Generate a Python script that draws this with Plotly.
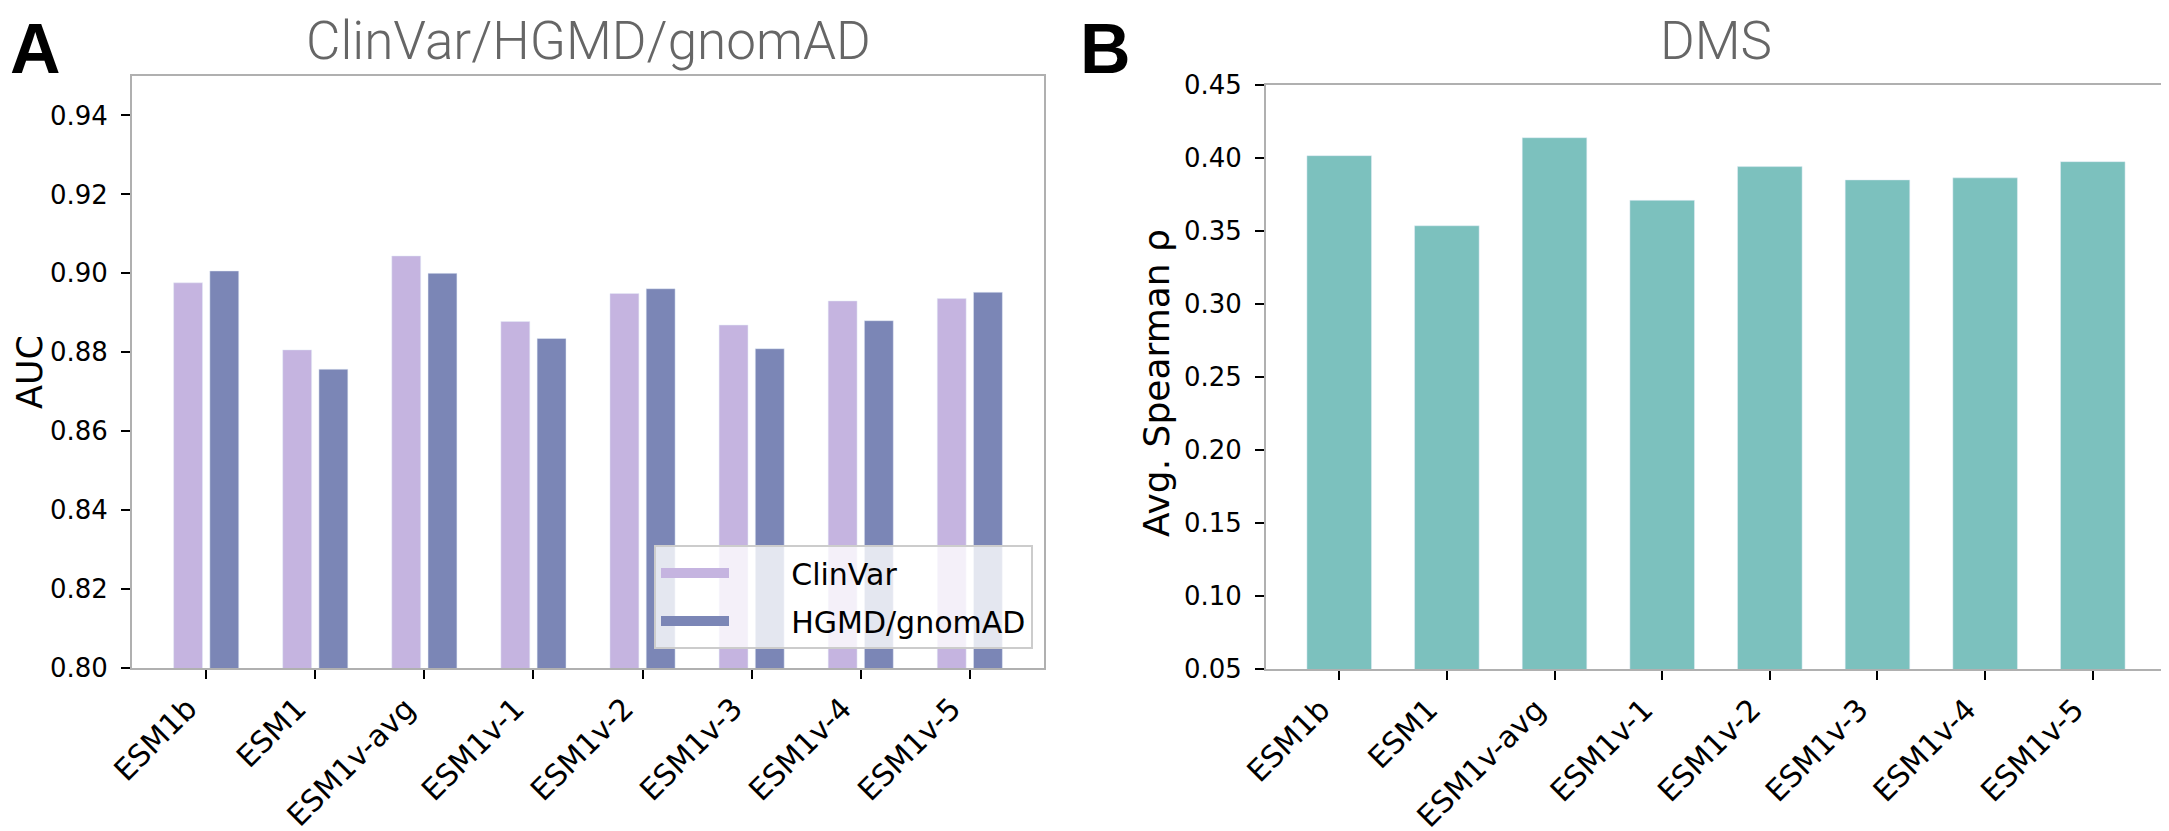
import plotly.graph_objects as go

models = ["ESM1b", "ESM1", "ESM1v-avg", "ESM1v-1", "ESM1v-2", "ESM1v-3", "ESM1v-4", "ESM1v-5"]
clinvar_auc = [0.8976, 0.8806, 0.9044, 0.8878, 0.8949, 0.8869, 0.8930, 0.8936]
hgmd_auc = [0.9006, 0.8757, 0.9000, 0.8835, 0.8961, 0.8809, 0.8880, 0.8952]
dms_spearman = [0.4016, 0.3536, 0.4139, 0.3710, 0.3941, 0.3850, 0.3864, 0.3975]

auc_ticks = [0.80, 0.82, 0.84, 0.86, 0.88, 0.90, 0.92, 0.94]
dms_ticks = [0.05, 0.10, 0.15, 0.20, 0.25, 0.30, 0.35, 0.40, 0.45]

C_CLIN = "#c5b4e0"
C_HGMD = "#7b86b6"
C_DMS = "#7cc1be"

W, H = 2169, 831
OFF = 8  # page offset of the plot div inside the browser window
YTICKFONT = dict(family="DejaVu Sans", size=26, color="black")
XTICKFONT = dict(family="DejaVu Sans", size=30, color="black")
PAD = "\u00a0" * 6

fig = go.Figure()
fig.add_trace(go.Bar(x=models, y=clinvar_auc, name="ClinVar", marker_color=C_CLIN,
                     width=0.265, offset=-0.2985, xaxis="x", yaxis="y", showlegend=False))
fig.add_trace(go.Bar(x=models, y=hgmd_auc, name="HGMD/gnomAD", marker_color=C_HGMD,
                     width=0.265, offset=0.0335, xaxis="x", yaxis="y", showlegend=False))
fig.add_trace(go.Bar(x=models, y=dms_spearman, name="DMS", marker_color=C_DMS,
                     width=0.6, showlegend=False, xaxis="x2", yaxis="y2"))
# legend-only entries
fig.add_trace(go.Scatter(x=[None], y=[None], mode="lines", name=PAD + "ClinVar", legendgroup="c",
                         line=dict(color=C_CLIN, width=22), xaxis="x", yaxis="y"))
fig.add_trace(go.Scatter(x=[None], y=[None], mode="lines", name=PAD + "HGMD/gnomAD", legendgroup="h",
                         line=dict(color=C_HGMD, width=22), xaxis="x", yaxis="y"))

axis_common = dict(showline=True, mirror=True, linecolor="#b0b0b0", linewidth=2,
                   ticks="outside", ticklen=9, tickwidth=2, tickcolor="black",
                   showgrid=False, zeroline=False, automargin=False)

def px_x(v):
    return (v - OFF) / W

def px_y(v):
    return 1 - (v - OFF) / H

x1 = (px_x(132), px_x(1044))
x2 = (px_x(1266), px_x(2166))
y1 = (px_y(668), px_y(76))
y2 = (px_y(669), px_y(85))

fig.update_layout(
    width=W, height=H,
    margin=dict(l=0, r=0, t=0, b=0, autoexpand=False),
    paper_bgcolor="white", plot_bgcolor="white",
    barmode="overlay",
    xaxis=dict(domain=x1, anchor="y", type="category", range=[-0.68, 7.68],
               tickangle=-45, tickfont=XTICKFONT, ticklabelshift=-18, **axis_common),
    yaxis=dict(domain=y1, anchor="x", range=[0.80, 0.95], tickvals=auc_ticks,
               tickformat=".2f", ticklabelstandoff=8, tickfont=YTICKFONT,
               **axis_common),
    xaxis2=dict(domain=x2, anchor="y2", type="category", range=[-0.68, 7.68],
                tickangle=-45, tickfont=XTICKFONT, ticklabelshift=-18, **axis_common),
    yaxis2=dict(domain=y2, anchor="x2", range=[0.05, 0.45], tickvals=dms_ticks,
                tickformat=".2f", ticklabelstandoff=8, tickfont=YTICKFONT,
                **axis_common),
    legend=dict(x=px_x(654), y=px_y(545), xanchor="left", yanchor="top",
                bgcolor="rgba(255,255,255,0.8)", bordercolor="#cccccc", borderwidth=2,
                font=dict(family="DejaVu Sans", size=30, color="black"),
                traceorder="grouped", itemwidth=68, tracegroupgap=6),
    showlegend=True,
)

# axis titles
fig.add_annotation(text="AUC", x=0, y=(y1[0] + y1[1]) / 2, xref="paper", yref="paper",
                   xanchor="left", yanchor="middle", textangle=-90,
                   showarrow=False, font=dict(family="DejaVu Sans", size=35, color="black"))
fig.add_annotation(text="Avg. Spearman ρ", x=px_x(1156), y=px_y(383), xref="paper", yref="paper",
                   xanchor="center", yanchor="middle", textangle=-90,
                   showarrow=False, font=dict(family="DejaVu Sans", size=36, color="black"))

# panel titles
title_font = dict(family="Roboto", size=53, color="#666666", weight=300)
fig.add_annotation(text="ClinVar/HGMD/gnomAD", x=(x1[0] + x1[1]) / 2, y=1,
                   xref="paper", yref="paper", xanchor="center", yanchor="top",
                   showarrow=False, font=title_font)
fig.add_annotation(text="DMS", x=(x2[0] + x2[1]) / 2, y=1,
                   xref="paper", yref="paper", xanchor="center", yanchor="top",
                   showarrow=False, font=title_font)

panel_font = dict(family="Liberation Sans", size=70, color="black", weight="bold")
fig.add_annotation(text="<b>A</b>", x=0, y=1, xref="paper", yref="paper",
                   xanchor="left", yanchor="top",
                   showarrow=False, font=panel_font)
fig.add_annotation(text="<b>B</b>", x=px_x(1078), y=1, xref="paper", yref="paper",
                   xanchor="left", yanchor="top",
                   showarrow=False, font=panel_font)

fig.write_html("out.html")
